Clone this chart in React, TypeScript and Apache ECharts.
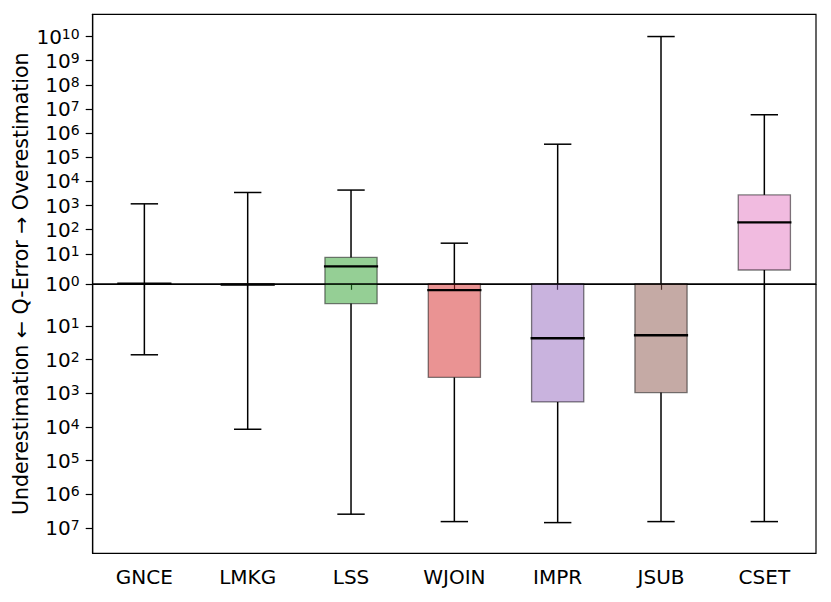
import React, { useEffect, useRef } from "react";
import * as echarts from "echarts";

// Signed log10 of the Q-Error: positive = overestimation, negative = underestimation
const categories = ["GNCE", "LMKG", "LSS", "WJOIN", "IMPR", "JSUB", "CSET"];
const whiskerHigh = [3.07, 3.54, 3.64, 1.44, 5.54, 10.0, 6.76];
const q3 = [0, 0, 0.88, 0, 0, 0, 3.44];
const median = [0, -0.02, 0.58, -0.15, -1.37, -1.28, 2.3];
const q1 = [0, -0.02, -0.47, -2.53, -3.26, -2.98, 0.46];
const whiskerLow = [-1.86, -4.07, -6.59, -6.81, -6.84, -6.81, -6.81];
const boxColors = [
  "rgba(31,119,180,0.5)",
  "rgba(255,127,14,0.5)",
  "rgba(44,160,44,0.5)",
  "rgba(214,39,40,0.5)",
  "rgba(148,103,189,0.5)",
  "rgba(140,86,75,0.5)",
  "rgba(227,119,194,0.5)",
];
const overTickExps = [0, 1, 2, 3, 4, 5, 6, 7, 8, 9, 10];
const underTickExps = [1, 2, 3, 4, 5, 6, 7];
const yTitle = "Underestimation \u2190 Q-Error \u2192 Overestimation";

// piecewise symmetric-log style scale (axis units)
function toAxis(e: number): number {
  if (e >= 0) return e <= 1 ? 30 * e : 30 + 24.14 * (e - 1);
  const a = -e;
  return -(a <= 1 ? 42 * a : 42 + 33.7 * (a - 1));
}

const tickValues = [
  ...overTickExps.map((e) => toAxis(e)),
  ...underTickExps.map((e) => toAxis(-e)),
];
const tickLabels = [...overTickExps, ...underTickExps];

const FONT = "DejaVu Sans";

export default function App() {
  const ref = useRef<HTMLDivElement>(null);
  useEffect(() => {
    const chart = echarts.init(ref.current!, null, { renderer: "svg" });
    const data = categories.map((_, i) => [
      i,
      toAxis(whiskerLow[i]),
      toAxis(q1[i]),
      toAxis(median[i]),
      toAxis(q3[i]),
      toAxis(whiskerHigh[i]),
    ]);
    chart.setOption({
      animation: false,
      grid: {
        left: 92.7,
        right: 15,
        top: 14.3,
        bottom: 48.7,
        containLabel: false,
        outerBoundsMode: "none",
        show: true,
        borderColor: "#000",
        borderWidth: 1.2,
        backgroundColor: "transparent",
      },
      xAxis: {
        type: "category",
        data: categories,
        boundaryGap: true,
        axisLine: { show: true, lineStyle: { color: "#000", width: 1.2 } },
        axisTick: { show: true, alignWithLabel: true, length: 6, lineStyle: { color: "#000", width: 1.2 } },
        axisLabel: { color: "#000", fontFamily: FONT, fontSize: 20, margin: 14 },
        splitLine: { show: false },
      },
      yAxis: {
        type: "value",
        min: -269.5,
        max: 269.5,
        name: yTitle,
        nameLocation: "middle",
        nameGap: 61,
        nameRotate: 90,
        nameMoveOverlap: false,
        nameTextStyle: { color: "#000", fontFamily: FONT, fontSize: 20.5 },
        axisLine: { show: true, lineStyle: { color: "#000", width: 1.2 } },
        axisTick: {
          show: true,
          length: 7,
          customValues: tickValues,
          lineStyle: { color: "#000", width: 1.2 },
        },
        axisLabel: {
          customValues: tickValues,
          margin: 13,
          formatter: (v: number) => {
            let best = 0;
            let bd = Infinity;
            tickValues.forEach((t, i) => {
              const d = Math.abs(t - v);
              if (d < bd) {
                bd = d;
                best = i;
              }
            });
            return `{b|10}{s|${tickLabels[best]}}`;
          },
          rich: {
            b: { fontFamily: FONT, fontSize: 20, lineHeight: 20, color: "#000", verticalAlign: "middle" },
            s: { fontFamily: FONT, fontSize: 14, lineHeight: 14, color: "#000", verticalAlign: "top" },
          },
        },
        splitLine: { show: false },
      },
      series: [
        {
          type: "custom",
          z: 2,
          encode: { x: 0, y: [1, 2, 3, 4, 5] },
          data,
          renderItem: (params: any, api: any) => {
            const i = api.value(0);
            const [cx, yLo] = api.coord([i, api.value(1)]);
            const y1 = api.coord([i, api.value(2)])[1];
            const ym = api.coord([i, api.value(3)])[1];
            const y3 = api.coord([i, api.value(4)])[1];
            const yHi = api.coord([i, api.value(5)])[1];
            const band = api.size([1, 0])[0];
            const bw = band * 0.505;
            const cw = band * 0.265;
            const wStyle = { stroke: "#000", lineWidth: 1.5 };
            return {
              type: "group",
              children: [
                { type: "line", shape: { x1: cx, y1: y3, x2: cx, y2: yHi }, style: wStyle },
                { type: "line", shape: { x1: cx, y1: y1, x2: cx, y2: yLo }, style: wStyle },
                { type: "line", shape: { x1: cx - cw / 2, y1: yHi, x2: cx + cw / 2, y2: yHi }, style: wStyle },
                { type: "line", shape: { x1: cx - cw / 2, y1: yLo, x2: cx + cw / 2, y2: yLo }, style: wStyle },
                {
                  type: "rect",
                  shape: { x: cx - bw / 2, y: y3, width: bw, height: Math.max(y1 - y3, 0.01) },
                  style: { fill: boxColors[i], stroke: "rgba(0,0,0,0.5)", lineWidth: 1.3 },
                },
                {
                  type: "line",
                  shape: { x1: cx - bw / 2 - 1, y1: ym, x2: cx + bw / 2 + 1, y2: ym },
                  style: { stroke: "#000", lineWidth: 2.4 },
                },
              ],
            };
          },
        },
        {
          type: "custom",
          z: 5,
          encode: { x: 0, y: 1 },
          data: [[0, toAxis(0)]],
          renderItem: (params: any, api: any) => {
            const y = api.coord([0, api.value(1)])[1];
            const cs = params.coordSys;
            return {
              type: "line",
              shape: { x1: cs.x, y1: y, x2: cs.x + cs.width, y2: y },
              style: { stroke: "#000", lineWidth: 1.3 },
            };
          },
        },
      ],
    });
    return () => chart.dispose();
  }, []);
  return (
    <div
      ref={ref}
      style={{ position: "fixed", left: 0, top: 0, width: 831, height: 602, background: "#fff" }}
    />
  );
}
